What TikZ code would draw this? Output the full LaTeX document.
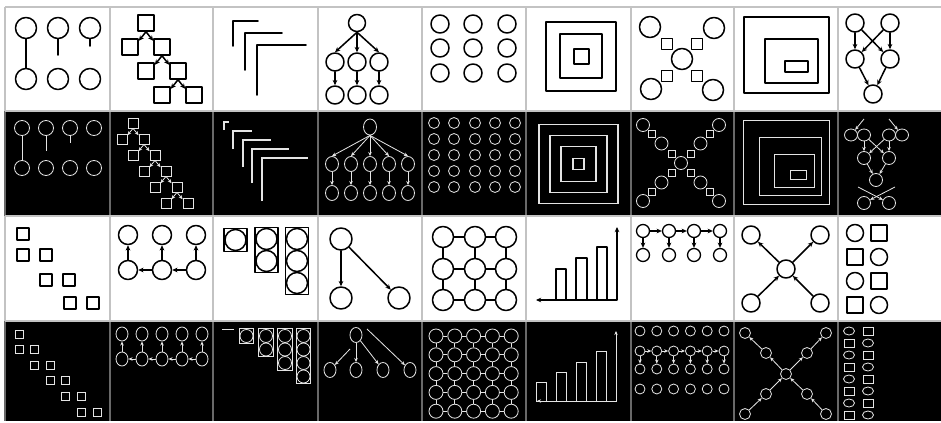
\documentclass[tikz,border=0pt]{standalone}
\usetikzlibrary{arrows.meta,shapes.geometric,fit}
\definecolor{wcol}{RGB}{228,228,228}
\definecolor{gridw}{RGB}{195,195,195}
\definecolor{gridb}{RGB}{105,105,105}
\begin{document}
\begin{tikzpicture}[x=0.03cm,y=-0.03cm,
 hand/.style={draw=black,line width=1.3pt,line cap=round,line join=round},
 hc/.style={circle,hand,inner sep=0pt,minimum size=#1*0.03cm},
 hs/.style={rectangle,hand,inner sep=0pt,minimum size=#1*0.03cm},
 ha/.style={hand,-{Stealth[length=4.5pt,width=4pt]}},
 wl/.style={draw=wcol,line width=0.7pt},
 wc/.style={circle,wl,inner sep=0pt,minimum size=#1*0.03cm},
 we/.style 2 args={ellipse,wl,inner sep=0pt,minimum width=#1*0.03cm,minimum height=#2*0.03cm},
 ws/.style={rectangle,wl,inner sep=0pt,minimum size=#1*0.03cm},
 wr/.style 2 args={rectangle,wl,inner sep=0pt,minimum width=#1*0.03cm,minimum height=#2*0.03cm},
 wa/.style={wl,-{Stealth[length=3.5pt,width=3pt]}},
 gw/.style={draw=gridw,line width=1.2pt},
 gb/.style={draw=gridb,line width=1.2pt}]
\useasboundingbox (0,0) rectangle (941,423);
\fill[white] (0,0) rectangle (941,423);
\fill[black] (5,111) rectangle (941,216);
\fill[black] (5,321) rectangle (941,421);
\foreach \x in {5,110,213,318,422,526,631,734,838} {
 \draw[gw] (\x,7) -- (\x,111);
 \draw[gb] (\x,111) -- (\x,216);
 \draw[gw] (\x,216) -- (\x,321);
 \draw[gb] (\x,321) -- (\x,421);}
\foreach \y in {7,111,216,321} \draw[gw] (5,\y) -- (941,\y);

% ---------- row 1 ----------
\begin{scope}[shift={(5,7)}]
\foreach \i/\x in {1/21,2/53,3/85} {
 \node[hc=21] (a1t\i) at (\x,21) {};
 \node[hc=21] (a1b\i) at (\x,72) {};}
\coordinate (a1e2) at (53,48);
\coordinate (a1e3) at (85,39);
\draw[hand] (a1t1) -- (a1b1);
\draw[hand] (a1t2) -- (a1e2);
\draw[hand] (a1t3) -- (a1e3);
\end{scope}

\begin{scope}[shift={(110,7)}]
\node[hs=16] (a2p0) at (36,16) {};
\foreach \k in {1,2,3} {
 \node[hs=16] (a2l\k) at ({4+16*\k},{16+24*\k}) {};
 \node[hs=16] (a2r\k) at ({36+16*\k},{16+24*\k}) {};}
\foreach \k/\p in {1/a2p0,2/a2r1,3/a2r2} {
 \draw[ha] (\p.south) -- (a2l\k.35);
 \draw[ha] (\p.south) -- (a2r\k.145);}
\end{scope}

\begin{scope}[shift={(213,7)}]
\draw[hand] (20,39) -- (20,14) -- (45,14);
\draw[hand] (32,63) -- (32,26) -- (69,26);
\draw[hand] (44,88) -- (44,38) -- (93,38);
\end{scope}

\begin{scope}[shift={(318,7)}]
\node[hc=17] (a4t) at (39,16) {};
\foreach \i/\x in {1/17,2/39,3/61} {
 \node[hc=18] (a4m\i) at (\x,55) {};
 \node[hc=18] (a4b\i) at (\x,88) {};
 \draw[ha] (a4t.south) -- (a4m\i.north);
 \draw[ha] (a4m\i) -- (a4b\i);}
\end{scope}

\begin{scope}[shift={(422,7)}]
\foreach \i/\x in {1/18,2/51,3/85} \foreach \j/\y in {1/17,2/41,3/66}
 \node[hc=18] (a5c\i\j) at (\x,\y) {};
\end{scope}

\begin{scope}[shift={(526,7)}]
\draw[hand] (20,15) rectangle (90,84);
\draw[hand] (34,27) rectangle (76,71);
\draw[hand] (48,42) rectangle (63,57);
\end{scope}

\begin{scope}[shift={(631,7)}]
\node[hc=21] (a7tl) at (19,20) {};
\node[hc=21] (a7tr) at (83,21) {};
\node[hc=21] (a7c) at (51,52) {};
\node[hc=21] (a7bl) at (20,82) {};
\node[hc=21] (a7br) at (82,83) {};
\node[hs=11] (a7s1) at (36,37) {};
\node[hs=11] (a7s2) at (66,37) {};
\node[hs=11] (a7s3) at (36,69) {};
\node[hs=11] (a7s4) at (66,69) {};
\end{scope}

\begin{scope}[shift={(734,7)}]
\draw[hand] (10,10) rectangle (95,86);
\draw[hand] (31,32) rectangle (84,76);
\draw[hand] (51,54) rectangle (74,65);
\end{scope}

\begin{scope}[shift={(838,7)}]
\node[hc=18] (a9tl) at (17,16) {};
\node[hc=18] (a9tr) at (52,16) {};
\node[hc=18] (a9ml) at (17,52) {};
\node[hc=18] (a9mr) at (52,52) {};
\node[hc=18] (a9b) at (35,87) {};
\draw[ha] (a9tl) -- (a9ml);
\draw[ha] (a9tl) -- (a9mr);
\draw[ha] (a9tr) -- (a9mr);
\draw[ha] (a9tr) -- (a9ml);
\draw[ha] (a9ml) -- (a9b);
\draw[ha] (a9mr) -- (a9b);
\end{scope}

% ---------- row 2 (black) ----------
\begin{scope}[shift={(5,111)}]
\foreach \i/\x in {1/17,2/41,3/65,4/89} {
 \node[wc=15] (b1t\i) at (\x,17) {};
 \node[wc=15] (b1b\i) at (\x,57) {};}
\coordinate (b1e2) at (41,40);
\coordinate (b1e3) at (65,32);
\draw[wl] (b1t1) -- (b1b1);
\draw[wl] (b1t2) -- (b1e2);
\draw[wl] (b1t3) -- (b1e3);
\end{scope}

\begin{scope}[shift={(110,111)}]
\node[ws=10] (b2p0) at (23,12) {};
\foreach \k in {1,...,5} {
 \node[ws=10] (b2l\k) at ({1+11*\k},{12+16*\k}) {};
 \node[ws=10] (b2r\k) at ({23+11*\k},{12+16*\k}) {};}
\foreach \k/\p in {1/b2p0,2/b2r1,3/b2r2,4/b2r3,5/b2r4} {
 \draw[wa] (\p.south) -- (b2l\k.35);
 \draw[wa] (\p.south) -- (b2r\k.145);}
\end{scope}

\begin{scope}[shift={(213,111)}]
\foreach \cx/\cy/\h/\v in {11/11/5/8,20/20/19/18,30/29/28/27,39/38/37/34,49/47/46/43}
 \draw[wl,line width=0.9pt] (\cx,\cy+\v) -- (\cx,\cy) -- (\cx+\h,\cy);
\end{scope}

\begin{scope}[shift={(318,111)}]
\node[we={13}{16}] (b4t) at (52,16) {};
\foreach \i/\x in {1/14,2/33,3/52,4/71,5/90} {
 \node[we={13}{15}] (b4m\i) at (\x,53) {};
 \node[we={13}{15}] (b4b\i) at (\x,82) {};
 \draw[wa] (b4t.south) -- (b4m\i.north);
 \draw[wa] (b4m\i) -- (b4b\i);}
\end{scope}

\begin{scope}[shift={(422,111)}]
\foreach \i/\x in {1/12,2/32,3/53,4/73,5/93} \foreach \j/\y in {1/12,2/28,3/44,4/60,5/76}
 \node[wc=11] (b5c\i\j) at (\x,\y) {};
\end{scope}

\begin{scope}[shift={(526,111)}]
\foreach \s in {79,57,35,11}
 \draw[wl,line width=1.1pt] (52.5-\s/2,53-\s/2) rectangle (52.5+\s/2,53+\s/2);
\end{scope}

\begin{scope}[shift={(631,111)}]
\node[wc=13] (b7c) at (50,52) {};
\foreach \sx/\sy/\n in {-1/-1/a,1/-1/b,-1/1/c,1/1/d} {
 \node[ws=7] (b7s1\n) at (50+9.5*\sx,52+9.5*\sy) {};
 \node[wc=13] (b7c1\n) at (50+19.5*\sx,52+19.5*\sy) {};
 \node[ws=7] (b7s2\n) at (50+29*\sx,52+29*\sy) {};
 \node[wc=13] (b7c2\n) at (50+38*\sx,52+38*\sy) {};}
\end{scope}

\begin{scope}[shift={(734,111)}]
\draw[wl] (9,9) rectangle (95,93);
\draw[wl] (25,26) rectangle (87,84);
\draw[wl] (40,43) rectangle (80,76);
\draw[wl] (56,59) rectangle (72,68);
\end{scope}

\begin{scope}[shift={(838,111)}]
\node[we={13}{12}] (b9p1) at (13,24) {};
\node[we={13}{12}] (b9p2) at (26,24) {};
\node[we={13}{12}] (b9p3) at (51,24) {};
\node[we={13}{12}] (b9p4) at (64,24) {};
\node[wc=13] (b9ml) at (26,47) {};
\node[wc=13] (b9mr) at (51,47) {};
\node[wc=13] (b9c) at (38,69) {};
\node[wc=13] (b9bl) at (26,92) {};
\node[wc=13] (b9br) at (51,92) {};
\coordinate (b9i1) at (26,8);
\coordinate (b9i2) at (51,8);
\coordinate (b9x1) at (20,76);
\coordinate (b9x2) at (57,76);
\draw[wa] (b9i1) -- (b9p1);
\draw[wa] (b9i2) -- (b9p4);
\draw[wa] (b9p2) -- (b9ml);
\draw[wa] (b9p2) -- (b9mr);
\draw[wa] (b9p3) -- (b9mr);
\draw[wa] (b9p3) -- (b9ml);
\draw[wa] (b9ml) -- (b9c);
\draw[wa] (b9mr) -- (b9c);
\draw[wa] (b9x1) -- (b9br);
\draw[wa] (b9x2) -- (b9bl);
\end{scope}

% ---------- row 3 ----------
\begin{scope}[shift={(5,216)}]
\foreach \n/\x/\y in {1/18/18,2/18/39,3/41/39,4/41/64,5/64/64,6/65/87,7/88/87}
 \node[hs=12] (c1s\n) at (\x,\y) {};
\end{scope}

\begin{scope}[shift={(110,216)}]
\foreach \i/\x in {1/18,2/52,3/86} {
 \node[hc=19] (c2t\i) at (\x,19) {};
 \node[hc=19] (c2b\i) at (\x,54) {};
 \draw[ha] (c2b\i) -- (c2t\i);}
\draw[ha] (c2b3) -- (c2b2);
\draw[ha] (c2b2) -- (c2b1);
\end{scope}

\begin{scope}[shift={(213,216)}]
\node[hc=21] (c3a1) at (22.5,24) {};
\node[hand,fit=(c3a1),inner sep=0.3pt] (c3r1) {};
\node[hc=21] (c3b1) at (53.5,23) {};
\node[hc=21] (c3b2) at (53.5,45) {};
\node[hand,fit=(c3b1)(c3b2),inner sep=0.3pt] (c3r2) {};
\node[hc=21] (c3c1) at (84,23) {};
\node[hc=21] (c3c2) at (84,45) {};
\node[hc=21] (c3c3) at (84,67) {};
\node[hand,fit=(c3c1)(c3c3),inner sep=0.3pt] (c3r3) {};
\end{scope}

\begin{scope}[shift={(318,216)}]
\node[hc=22] (c4t) at (23,23) {};
\node[hc=22] (c4l) at (23,82) {};
\node[hc=22] (c4r) at (81,82) {};
\draw[ha] (c4t) -- (c4l);
\draw[ha] (c4t) -- (c4r);
\end{scope}

\begin{scope}[shift={(422,216)}]
\foreach \i/\x in {1/21,2/53,3/84} \foreach \j/\y in {1/21,2/53,3/84}
 \node[hc=21] (c5n\i\j) at (\x,\y) {};
\foreach \i/\k in {1/2,2/3} \foreach \j in {1,2,3} {
 \draw[hand] (c5n\i\j) -- (c5n\k\j);
 \draw[hand] (c5n\j\i) -- (c5n\j\k);}
\end{scope}

\begin{scope}[shift={(526,216)}]
\draw[hand] (30,84) rectangle (40,53);
\draw[hand] (50,84) rectangle (61,42);
\draw[hand] (71,84) rectangle (81,31);
\draw[hand,{Stealth[length=4.5pt,width=4pt]}-{Stealth[length=4.5pt,width=4pt]}] (10,84) -- (91,84) -- (91,11);
\end{scope}

\begin{scope}[shift={(631,216)}]
\foreach \i/\x in {1/12,2/38,3/63,4/89} {
 \node[hc=13,line width=1.1pt] (c7t\i) at (\x,15) {};
 \node[hc=13,line width=1.1pt] (c7b\i) at (\x,39) {};
 \draw[ha,line width=1.1pt] (c7t\i) -- (c7b\i);}
\foreach \i/\j in {1/2,2/3,3/4} \draw[ha,line width=1.1pt] (c7t\i) -- (c7t\j);
\end{scope}

\begin{scope}[shift={(734,216)}]
\node[hc=18] (c8tl) at (17,19) {};
\node[hc=18] (c8tr) at (86,19) {};
\node[hc=18] (c8c) at (52,53) {};
\node[hc=18] (c8bl) at (17,87) {};
\node[hc=18] (c8br) at (86,87) {};
\draw[ha] (c8c) -- (c8tl);
\draw[ha] (c8c) -- (c8tr);
\draw[ha] (c8bl) -- (c8c);
\draw[ha] (c8br) -- (c8c);
\end{scope}

\begin{scope}[shift={(838,216)}]
\node[hc=17] (c9a1) at (17,17) {}; \node[hs=16] (c9b1) at (41,17) {};
\node[hs=16] (c9a2) at (17,41) {}; \node[hc=17] (c9b2) at (41,41) {};
\node[hc=17] (c9a3) at (17,65) {}; \node[hs=16] (c9b3) at (41,65) {};
\node[hs=16] (c9a4) at (17,89) {}; \node[hc=17] (c9b4) at (41,89) {};
\end{scope}

% ---------- row 4 (black) ----------
\begin{scope}[shift={(5,321)}]
\node[ws=8] (d1s0) at (14,13) {};
\foreach \k in {1,...,5} {
 \node[ws=8] (d1l\k) at ({14+15.6*(\k-1)},{13+15.6*\k}) {};
 \node[ws=8] (d1r\k) at ({14+15.6*\k},{13+15.6*\k}) {};}
\end{scope}

\begin{scope}[shift={(110,321)}]
\foreach \i/\x in {1/12,2/32,3/52,4/72,5/92} {
 \node[we={12}{14}] (d2t\i) at (\x,13) {};
 \node[we={12}{14}] (d2b\i) at (\x,38) {};
 \draw[wa] (d2b\i) -- (d2t\i);}
\foreach \i/\j in {5/4,4/3,3/2,2/1} \draw[wa] (d2b\i) -- (d2b\j);
\end{scope}

\begin{scope}[shift={(213,321)}]
\draw[wl] (9,8) -- (21,8);
\foreach \n/\x/\m in {1/33.5/1,2/53/2,3/72/3,4/90.5/4} {
 \foreach \j in {1,...,\m} \node[wc=13] (d3c\n\j) at (\x,{1.5+13.5*\j}) {};
 \node[wl,fit=(d3c\n1)(d3c\n\m),inner sep=0.3pt] (d3r\n) {};}
\end{scope}

\begin{scope}[shift={(318,321)}]
\node[we={12}{15}] (d4t) at (38,14) {};
\foreach \i/\x in {1/12,2/38,3/65,4/92} \node[we={12}{15}] (d4b\i) at (\x,49) {};
\coordinate (d4s1) at (32,28);
\coordinate (d4s4) at (49,8);
\draw[wa] (d4s1) -- (d4b1);
\draw[wa] (d4t) -- (d4b2);
\draw[wa] (d4t) -- (d4b3);
\draw[wa] (d4s4) -- (d4b4);
\end{scope}

\begin{scope}[shift={(422,321)}]
\foreach \i in {1,...,5} \foreach \j in {1,...,5}
 \node[wc=14] (d5n\i\j) at ({14+18.8*(\i-1)},{15+18.8*(\j-1)}) {};
\foreach \i/\k in {1/2,2/3,3/4,4/5} \foreach \j in {1,...,5} {
 \draw[wl] (d5n\i\j) -- (d5n\k\j);
 \draw[wl] (d5n\j\i) -- (d5n\j\k);}
\end{scope}

\begin{scope}[shift={(526,321)}]
\foreach \a/\t in {10/61,30/51,50/41,70/30} \draw[wl] (\a,80) rectangle (\a+10,\t);
\draw[wl,{Stealth[length=3.5pt,width=3pt]}-{Stealth[length=3.5pt,width=3pt]}] (11,80) -- (90,80) -- (90,10);
\end{scope}

\begin{scope}[shift={(631,321)}]
\foreach \i in {1,...,6} {
 \foreach \j/\y in {1/10,2/30,3/48,4/68}
  \node[wc=10] (d7n\i\j) at ({9+16.8*(\i-1)},\y) {};
 \draw[wa] (d7n\i2) -- (d7n\i3);}
\foreach \i/\k in {1/2,2/3,3/4,4/5,5/6} \draw[wa] (d7n\i2) -- (d7n\k2);
\end{scope}

\begin{scope}[shift={(734,321)}]
\foreach \n/\x/\y in {tl/11/12,tr/92/12,mtl/32/32,mtr/73/32,c/52/53,mbl/32/73,mbr/73/73,bl/11/93,br/92/93}
 \node[wc=11] (d8\n) at (\x,\y) {};
\draw[wa] (d8c) -- (d8mtl); \draw[wa] (d8mtl) -- (d8tl);
\draw[wa] (d8c) -- (d8mtr); \draw[wa] (d8mtr) -- (d8tr);
\draw[wa] (d8bl) -- (d8mbl); \draw[wa] (d8mbl) -- (d8c);
\draw[wa] (d8br) -- (d8mbr); \draw[wa] (d8mbr) -- (d8c);
\end{scope}

\begin{scope}[shift={(838,321)}]
\foreach \j in {0,2,4,6} {
 \node[we={11}{8}] (d9a\j) at (11,{10+12*\j}) {};
 \node[wr={10}{8}] (d9b\j) at (30,{10+12*\j}) {};}
\foreach \j in {1,3,5,7} {
 \node[wr={10}{8}] (d9a\j) at (11,{10+12*\j}) {};
 \node[we={11}{8}] (d9b\j) at (30,{10+12*\j}) {};}
\end{scope}
\end{tikzpicture}
\end{document}
